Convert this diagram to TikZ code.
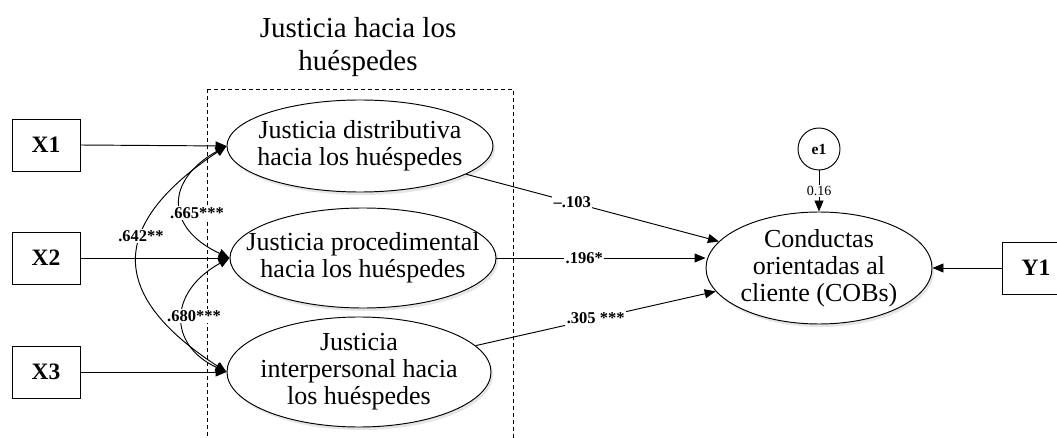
\documentclass[tikz,border=0pt]{standalone}
\usepackage{fontspec}
\setmainfont{Liberation Serif}
\usetikzlibrary{arrows.meta,shapes.geometric,calc}
\begin{document}
\begin{tikzpicture}[x=1pt,y=-1pt,
  line width=0.95pt,
  tip/.style={-{Triangle[length=11pt,width=9pt]}},
  dtip/.style={{Triangle[length=11pt,width=9pt]}-{Triangle[length=11pt,width=9pt]}},
  obs/.style={draw, minimum width=68pt, minimum height=52pt, inner sep=0pt, font=\fontsize{23.5}{25}\selectfont\bfseries},
  lat/.style={draw, ellipse, fill=white, inner sep=0pt},
  ltext/.style={align=center, inner sep=0pt, font=\fontsize{26}{27}\selectfont},
  coef/.style={fill=white, inner sep=1.5pt, font=\fontsize{16.5}{18}\selectfont\bfseries},
  shade/.style={fill=black!10},
]
\clip (0,0) rectangle (1057,438);
\fill[white] (0,0) rectangle (1057,438);

% title and dashed group box
\node[align=center, font=\fontsize{29}{33}\selectfont] (title) at (358,47) {Justicia hacia los\\huéspedes};
\draw[line width=0.75pt, dash pattern=on 4pt off 3pt] (207,89) rectangle (513,450);

% shadows
\fill[shade] (362,149) ellipse [x radius=133pt, y radius=46pt];
\fill[shade] (365,261) ellipse [x radius=133pt, y radius=50pt];
\fill[shade] (361,375) ellipse [x radius=132pt, y radius=55pt];
\fill[shade] (821,271) ellipse [x radius=113pt, y radius=56pt];

% latent variables
\node[lat, minimum width=266pt, minimum height=92pt] (J1) at (360,146) {};
\node[ltext] (J1t) at (J1) {Justicia distributiva\\hacia los huéspedes};
\node[lat, minimum width=266pt, minimum height=100pt] (J2) at (363,258) {};
\node[ltext] (J2t) at (J2) {Justicia procedimental\\hacia los huéspedes};
\node[lat, minimum width=264pt, minimum height=110pt] (J3) at (359,372) {};
\node[ltext] (J3t) at (J3) {Justicia\\interpersonal hacia\\los huéspedes};
\node[lat, minimum width=226pt, minimum height=112pt] (COB) at (819,268) {};
\node[ltext] (COBt) at (COB) {Conductas\\orientadas al\\cliente (COBs)};

% observed
\node[obs] (X1) at (46,145) {X1};
\node[obs] (X2) at (46,258) {X2};
\node[obs] (X3) at (46,372) {X3};
\node[obs] (Y1) at (1036,268) {Y1};

% error
\node[draw, circle, minimum size=42pt, inner sep=0pt, font=\fontsize{15.5}{16}\selectfont\bfseries] (e1) at (819,149) {e1};

% arrows from observed
\draw[tip] (X1.east) -- (J1.west);
\draw[tip] (X2.east) -- (J2.west);
\draw[tip] (X3.east) -- (J3.west);
\draw[tip] (Y1.west) -- (COB.east);
\draw[tip] (e1) -- node[pos=0.5, fill=white, inner sep=1pt, font=\fontsize{14}{15}\selectfont] (v16) {0.16} (COB);

% covariances
\draw[dtip] (J1.west) .. controls (165,180) and (165,228) .. (J2.west);
\draw[dtip] (J2.west) .. controls (168,292) and (168,345) .. (J3.west);
\draw[dtip] (J1.west) .. controls (108,225) and (108,295) .. (J3.west);
\node[coef] (c665) at (197,213) {.665***};
\node[coef] (c680) at (194,316) {.680***};
\node[coef] (c642) at (141,236) {.642**};

% structural paths
\draw[tip] (J1) -- node[coef, pos=0.42] (p1) {\textendash.103} (COB);
\draw[tip] (J2.east) -- node[coef, pos=0.42] (p2) {.196*} (J2.east -| COB.west);
\draw[tip] (J3) -- node[coef, pos=0.5] (p3) {.305 ***} (COB);
\end{tikzpicture}
\end{document}
